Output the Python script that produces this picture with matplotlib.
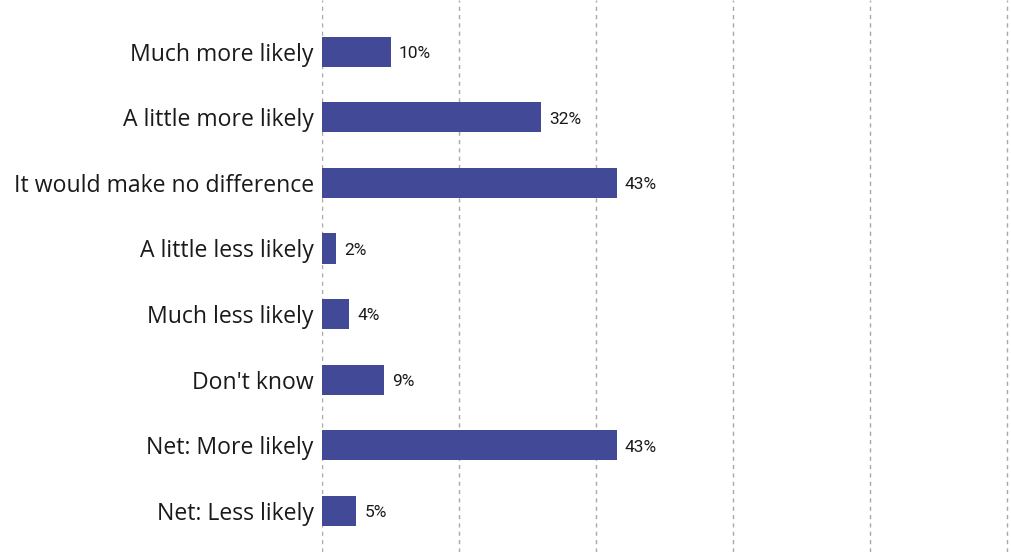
import matplotlib
matplotlib.use("Agg")
import matplotlib.pyplot as plt

categories = [
    "Much more likely",
    "A little more likely",
    "It would make no difference",
    "A little less likely",
    "Much less likely",
    "Don't know",
    "Net: More likely",
    "Net: Less likely",
]
values = [10, 32, 43, 2, 4, 9, 43, 5]
grid_ticks = [0, 20, 40, 60, 80, 100]

bar_color = "#424a98"

fig = plt.figure(figsize=(10.11, 5.52), dpi=100)
ax = fig.add_axes([322 / 1011, 0, (1011 - 322) / 1011, 1])

y = list(range(len(categories)))
ax.barh(y, values, height=0.46, color=bar_color, zorder=3)

for yi, v in zip(y, values):
    ax.text(v + 1.2, yi + 0.03, f"{v}%", va="center", ha="left",
            fontsize=12.5, family="Roboto", color="#1a1a1a")

ax.set_xlim(0, 100 * (1011 - 322) / (1007 - 322))
ax.set_ylim(7.63, -0.79)
ax.set_xticks(grid_ticks)
ax.xaxis.grid(True, linestyle=(0, (3, 3)), color="#a8a8a8", linewidth=1)
ax.set_yticks(y)
ax.set_yticklabels(categories, fontsize=16.6, family="Open Sans", color="#1a1a1a")
ax.tick_params(axis="y", length=0, pad=6)
ax.tick_params(axis="x", length=0, labelbottom=False)
for s in ax.spines.values():
    s.set_visible(False)

fig.savefig("out.png", dpi=100)
